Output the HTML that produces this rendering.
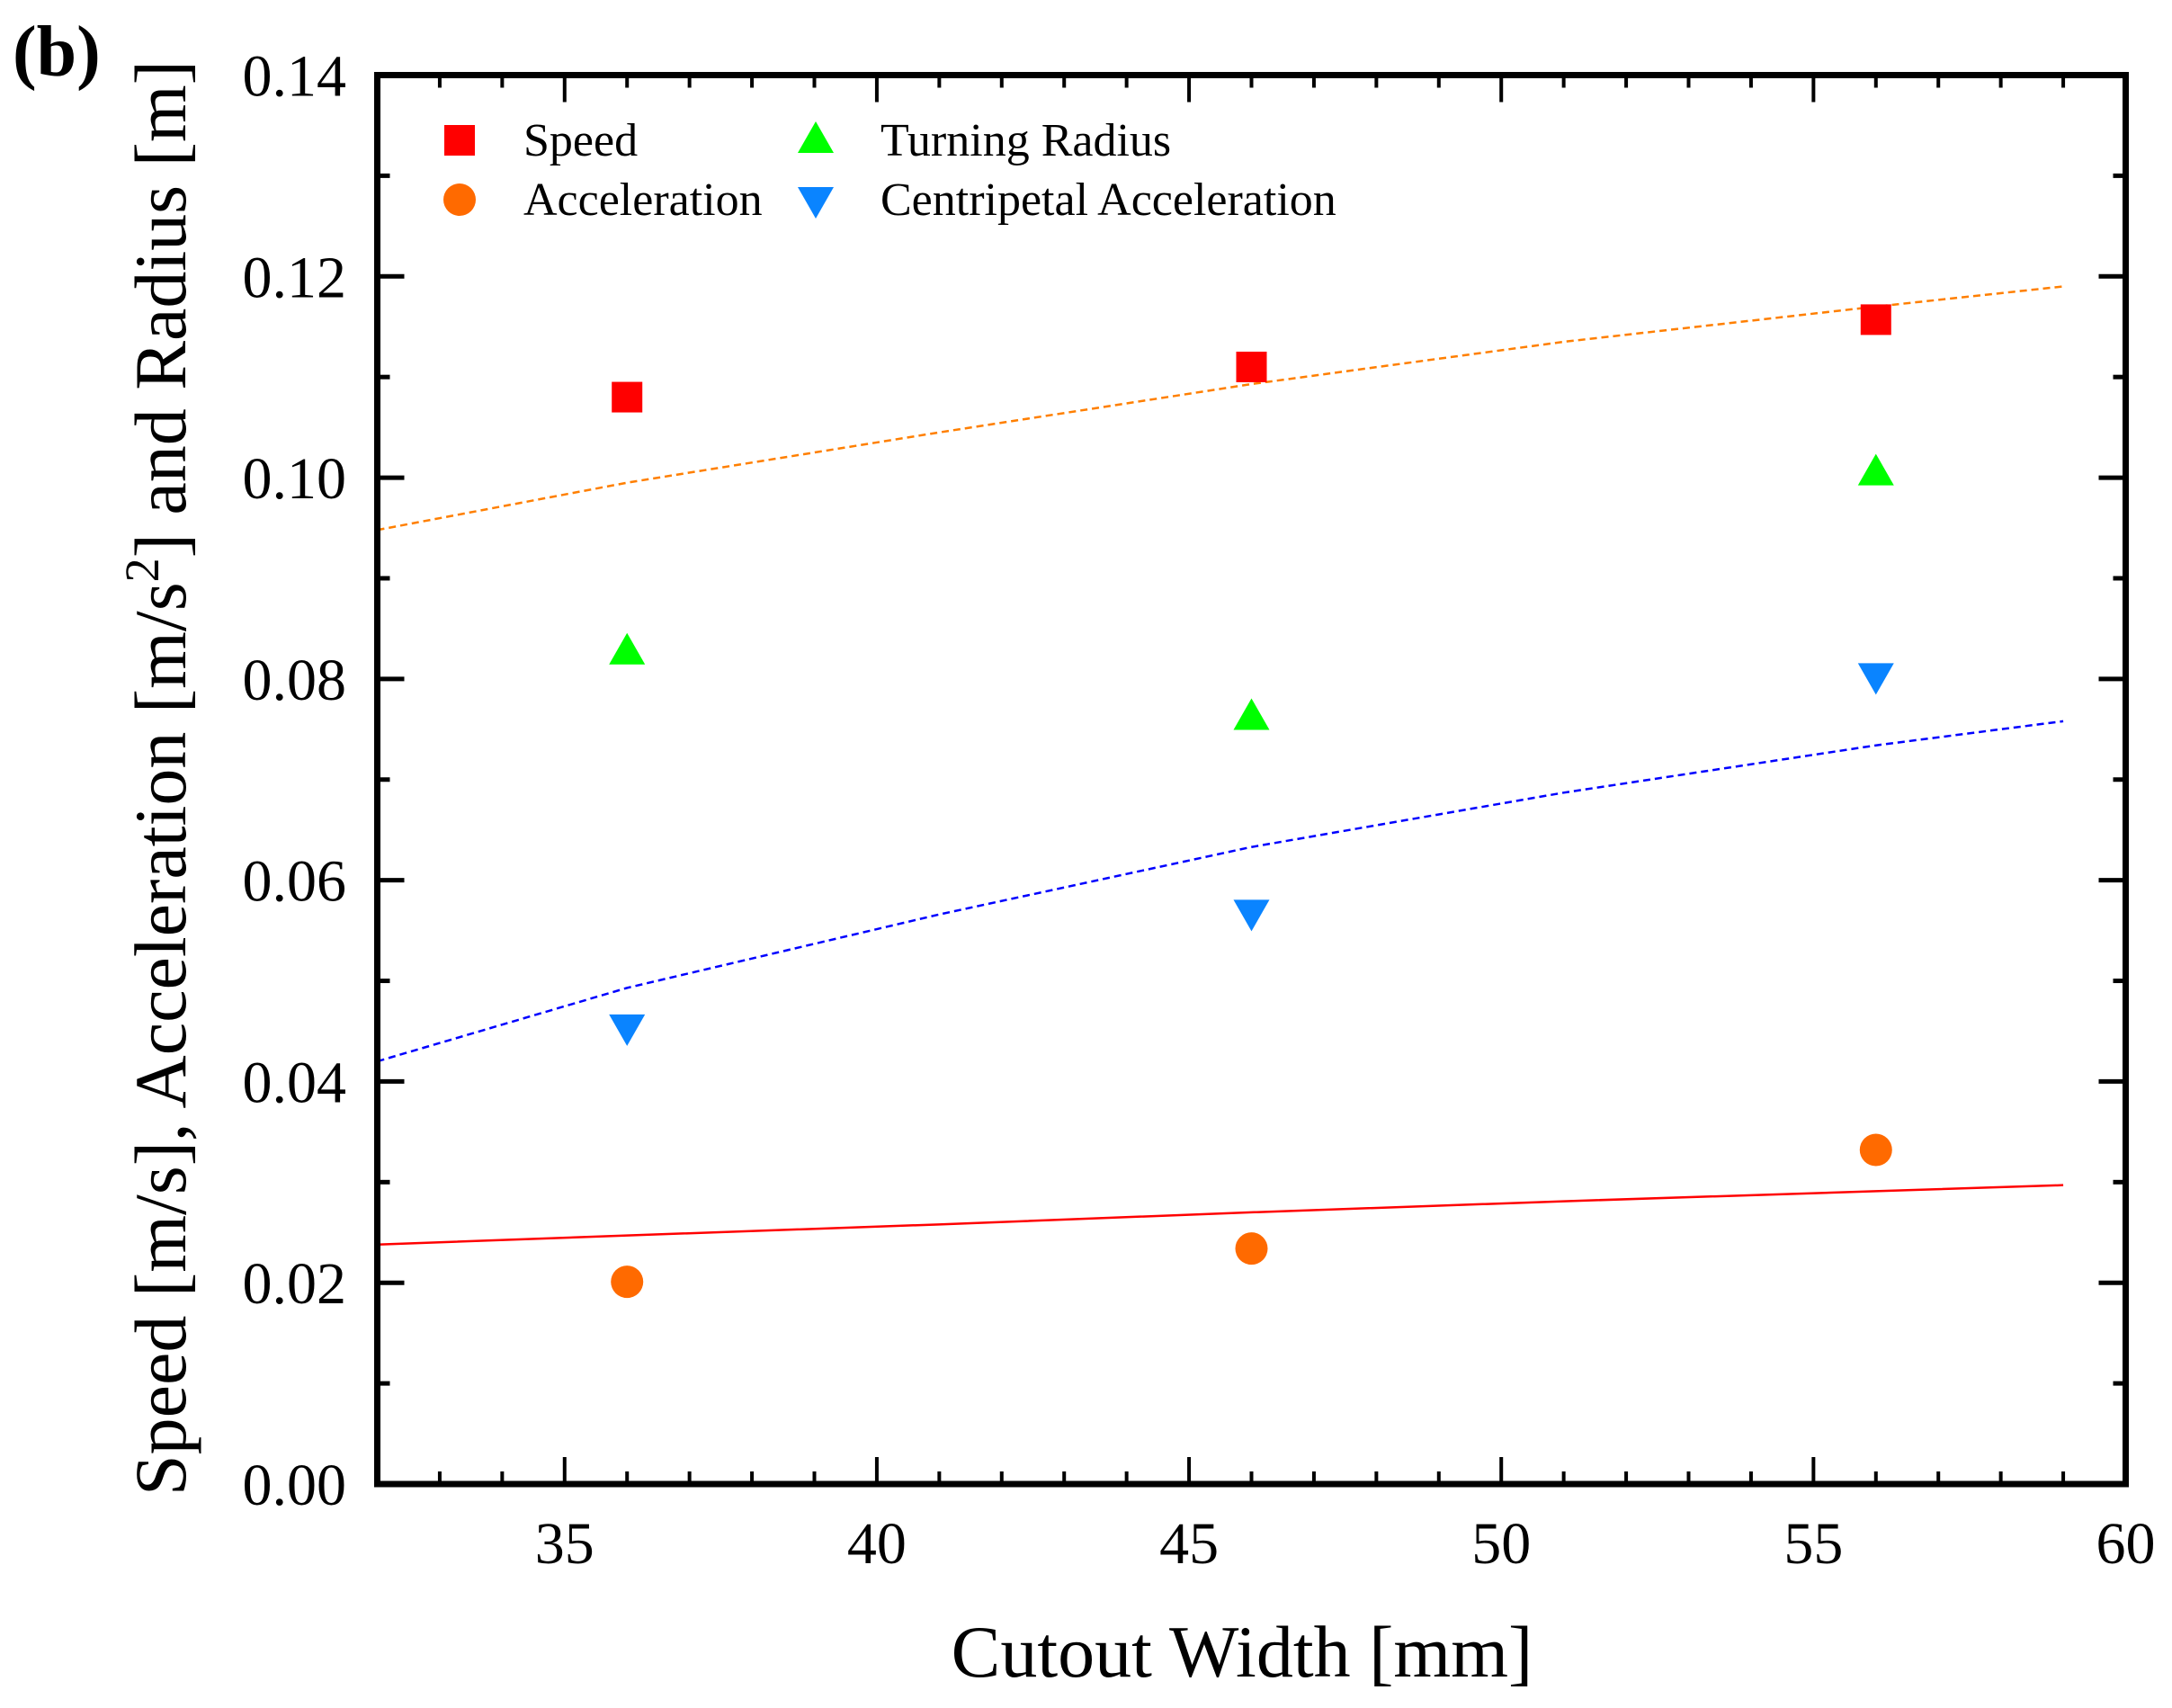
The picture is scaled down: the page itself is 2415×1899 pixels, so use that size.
<!DOCTYPE html>
<html><head><meta charset="utf-8"><style>
html,body{margin:0;padding:0;background:#fff}
svg{display:block;font-family:"Liberation Serif",serif}
</style></head><body>
<svg id="chart" width="2415" height="1899" viewBox="0 0 2415 1899" xmlns="http://www.w3.org/2000/svg">
<text x="14" y="84" font-size="80" font-weight="bold">(b)</text>
<g id="ticks"></g>
<g id="fits"></g>
<g id="marks"></g>
<rect x="419.5" y="83.5" width="1944" height="1566.5" fill="none" stroke="#000" stroke-width="7"/>
<text x="1381" y="1864" font-size="82" text-anchor="middle">Cutout Width [mm]</text>
<text transform="translate(206,865) rotate(-90)" font-size="82" text-anchor="middle">Speed [m/s], Acceleration [m/s<tspan dy="-30" font-size="54">2</tspan><tspan dy="30">] and Radius [m]</tspan></text>
<g>
<rect x="494" y="139" width="34" height="34" fill="#ff0000"/>
<text x="582" y="173" font-size="52">Speed</text>
<circle cx="511" cy="222" r="18" fill="#ff6a00"/>
<text x="582" y="239" font-size="52">Acceleration</text>
<polygon points="907,135 927,170 887,170" fill="#00ff00"/>
<text x="979" y="173" font-size="52">Turning Radius</text>
<polygon points="887,208 927,208 907,243" fill="#0a84ff"/>
<text x="979" y="239" font-size="52">Centripetal Acceleration</text>
</g>
</svg>
<script>
const xCats = [36, 46, 56];
const speed = [0.1080, 0.1110, 0.1157];
const accel = [0.0201, 0.0234, 0.0332];
const turning = [0.0826, 0.0761, 0.1004];
const centripetal = [0.0455, 0.0569, 0.0804];
const fitX = [32, 36, 41, 46, 51, 56, 59];
const fitSpeed = [0.0948, 0.0995, 0.1045, 0.1093, 0.1135, 0.1170, 0.1190];
const fitCentripetal = [0.0420, 0.0493, 0.0566, 0.0633, 0.0687, 0.0734, 0.0758];
const fitAccel = [0.0238, 0.0247, 0.0258, 0.0270, 0.0281, 0.0291, 0.0297];
const xTicks = [35, 40, 45, 50, 55, 60];
const yTicks = [0.00, 0.02, 0.04, 0.06, 0.08, 0.10, 0.12, 0.14];

const NS = "http://www.w3.org/2000/svg";
const X0 = 419.5, X1 = 2363.5, Y0 = 1650, Y1 = 83.5;
const xMin = 32, xMax = 60, yMin = 0, yMax = 0.14;
const sx = v => X0 + (v - xMin) / (xMax - xMin) * (X1 - X0);
const sy = v => Y0 - (v - yMin) / (yMax - yMin) * (Y0 - Y1);
function mk(tag, attrs, parent) {
  const e = document.createElementNS(NS, tag);
  for (const k in attrs) e.setAttribute(k, attrs[k]);
  parent.appendChild(e);
  return e;
}
const T = document.getElementById('ticks');
for (let v = 33; v <= 59; v++) {
  const major = v % 5 === 0;
  const L = major ? 30 : 14;
  const x = sx(v);
  const a = mk('line', {x1: x, x2: x, y1: Y0, y2: Y0 - L, stroke: '#000', 'stroke-width': 4}, T);
  
  
  const b = mk('line', {x1: x, x2: x, y1: Y1, y2: Y1 + L, stroke: '#000', 'stroke-width': 4}, T);
  
  
}
xTicks.forEach(v => {
  const t = mk('text', {x: sx(v), y: 1738, 'font-size': 66, 'text-anchor': 'middle'}, T);
  t.textContent = String(v);
  
  
});
for (let i = 1; i < 14; i++) {
  const v = i * 0.01;
  const major = i % 2 === 0;
  const L = major ? 30 : 14;
  const y = sy(v);
  const a = mk('line', {x1: X0, x2: X0 + L, y1: y, y2: y, stroke: '#000', 'stroke-width': 5}, T);
  
  
  const b = mk('line', {x1: X1, x2: X1 - L, y1: y, y2: y, stroke: '#000', 'stroke-width': 5}, T);
  
  
}
yTicks.forEach(v => {
  const t = mk('text', {x: 385, y: sy(v) + 23, 'font-size': 66, 'text-anchor': 'end'}, T);
  t.textContent = v.toFixed(2);
  
  
});
const F = document.getElementById('fits');
function fit(arr, color, dash, name) {
  const d = fitX.map((x, i) => (i ? 'L' : 'M') + sx(x) + ',' + sy(arr[i])).join(' ');
  const p = mk('path', {d: d, fill: 'none', stroke: color, 'stroke-width': 2.5}, F);
  if (dash) p.setAttribute('stroke-dasharray', '8,5');
  
  
}
fit(fitSpeed, '#ff7f00', true, 'speed-fit-line');
fit(fitCentripetal, '#0000ff', true, 'centripetal-fit-line');
fit(fitAccel, '#ff0000', false, 'acceleration-fit-line');
const M = document.getElementById('marks');
xCats.forEach((x, i) => {
  const cx = sx(x);
  let y = sy(speed[i]);
  const s = mk('rect', {x: cx - 17, y: y - 17, width: 34, height: 34, fill: '#ff0000'}, M);
  
  
  y = sy(accel[i]);
  const c = mk('circle', {cx: cx, cy: y, r: 18, fill: '#ff6a00'}, M);
  
  
  y = sy(turning[i]);
  const t = mk('polygon', {points: `${cx},${y-22} ${cx+20},${y+13} ${cx-20},${y+13}`, fill: '#00ff00'}, M);
  
  
  y = sy(centripetal[i]);
  const d = mk('polygon', {points: `${cx-20},${y-13} ${cx+20},${y-13} ${cx},${y+22}`, fill: '#0a84ff'}, M);
  
  
});
</script>
</body></html>
